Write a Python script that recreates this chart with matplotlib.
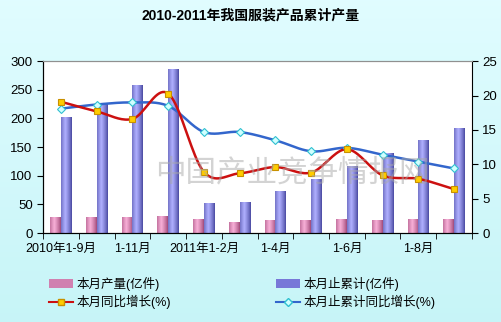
import matplotlib
matplotlib.use("Agg")
import matplotlib.pyplot as plt
import numpy as np

plt.rcParams['font.family'] = ['Liberation Sans', 'Noto Sans CJK SC', 'DejaVu Sans']

# - DATA -
months = ['2010年1-9月', '1-10月', '1-11月', '1-12月', '2011年1-2月', '1-3月',
          '1-4月', '1-5月', '1-6月', '1-7月', '1-8月', '1-9月']
monthly = [27, 27, 27, 29, 23, 19, 21, 21, 23, 21, 23, 23]          # 本月产量(亿件)
cumulative = [202, 226, 257, 286, 51, 54, 73, 94, 116, 139, 161, 183]  # 本月止累计(亿件)
monthly_yoy = [19.1, 17.7, 16.6, 20.3, 8.9, 8.7, 9.6, 8.8, 12.2, 8.4, 7.9, 6.4]
cumulative_yoy = [18.1, 18.7, 19.0, 18.5, 14.7, 14.7, 13.5, 11.9, 12.4, 11.4, 10.4, 9.4]
# - DATA -


def smooth(x, y, n=20):
    # catmull-rom curve through the points, like excel's smoothed line
    x = np.asarray(x, float)
    y = np.asarray(y, float)
    px = np.concatenate([[2 * x[0] - x[1]], x, [2 * x[-1] - x[-2]]])
    py = np.concatenate([[2 * y[0] - y[1]], y, [2 * y[-1] - y[-2]]])
    xs, ys = [], []
    t = np.linspace(0, 1, n, endpoint=False)
    for i in range(1, len(px) - 2):
        for p, out in ((px, xs), (py, ys)):
            p0, p1, p2, p3 = p[i - 1], p[i], p[i + 1], p[i + 2]
            out.extend(0.5 * (2 * p1 + (-p0 + p2) * t + (2 * p0 - 5 * p1 + 4 * p2 - p3) * t ** 2
                              + (-p0 + 3 * p1 - 3 * p2 + p3) * t ** 3))
    xs.append(x[-1])
    ys.append(y[-1])
    return xs, ys


fig = plt.figure(figsize=(5.01, 3.22), dpi=100)

# background gradient
bg = fig.add_axes([0, 0, 1, 1], zorder=-10)
grad = np.linspace(0, 1, 256)[:, None, None]
top = np.array([0.88, 0.99, 1.0])
bot = np.array([0.78, 0.96, 0.97])
bg.imshow(top + (bot - top) * grad, aspect='auto', extent=[0, 1, 0, 1])
bg.set_axis_off()

ax = fig.add_axes([0.086, 0.276, 0.856, 0.534])
ax.set_facecolor('white')
x = np.arange(len(months))
w = 0.3

pink_bars = ax.bar(x - w / 2, monthly, w, color='#E890C0', zorder=2)
blue_bars = ax.bar(x + w / 2, cumulative, w, color='#8C8CF0', zorder=2)


def shade(bars, dark, light):
    dark = np.array(matplotlib.colors.to_rgb(dark))
    light = np.array(matplotlib.colors.to_rgb(light))
    s = np.linspace(0, 1, 32)
    prof = np.clip(1 - np.abs(s - 0.4) / 0.6, 0, 1) ** 0.8
    img = (dark + (light - dark) * prof[:, None])[None, :, :]
    for b in bars:
        x0, y0 = b.get_x(), b.get_y()
        ax.imshow(img, aspect='auto', extent=[x0, x0 + b.get_width(), y0, y0 + b.get_height()],
                  zorder=2.1, interpolation='bilinear')


shade(pink_bars, '#A04878', '#F8B0D8')
shade(blue_bars, '#4848A0', '#B0B0FF')

ax.set_xlim(-0.5, len(months) - 0.5)
ax.set_ylim(0, 300)
ax.set_yticks(range(0, 301, 50))
ax.set_xticks(x[::2])
ax.set_xticklabels(months[::2])
ax.set_xticks(np.arange(-0.5, len(months), 1), minor=True)
ax.tick_params(axis='x', which='major', length=0, pad=7, labelsize=9)
ax.tick_params(axis='x', which='minor', length=4, direction='out')
ax.tick_params(axis='y', labelsize=9.5, length=4, direction='out')
ax.spines['top'].set_color('#909090')
ax.spines['right'].set_visible(False)

ax2 = ax.twinx()
ax2.set_ylim(0, 25)
ax2.set_yticks(range(0, 26, 5))
ax2.tick_params(axis='y', labelsize=9.5, length=4, direction='out')
ax2.spines['top'].set_color('#909090')

sx, sy = smooth(x, cumulative_yoy)
ax2.plot(sx, sy, color='#3366CC', lw=1.8, zorder=3)
ax2.plot(x, cumulative_yoy, ls='none', marker='D', ms=4.5, mfc='#D0FFFF', mec='#30C0D0', mew=0.8, zorder=4)
rx, ry = smooth(x, monthly_yoy)
ax2.plot(rx, ry, color='#CC1010', lw=1.8, zorder=3)
ax2.plot(x, monthly_yoy, ls='none', marker='s', ms=5, mfc='#FFCC00', mec='#C89000', mew=0.8, zorder=4)

# watermark
ax2.text(0.58, 0.35, '中国产业竞争情报网', transform=ax.transAxes, ha='center', va='center',
         fontsize=22, color='#a8a8a8', alpha=0.5, family=['Noto Sans CJK SC'], zorder=5)

fig.text(0.5, 0.952, '2010-2011年我国服装产品累计产量', ha='center', va='center',
         fontsize=10, fontweight='bold')

h_pink = matplotlib.patches.Patch(facecolor='#D080B0', edgecolor='none')
h_blue = matplotlib.patches.Patch(facecolor='#7878D8', edgecolor='none')
h_red = matplotlib.lines.Line2D([], [], color='#CC1010', lw=1.5, marker='s', ms=4.5,
                                mfc='#FFCC00', mec='#C89000')
h_bl = matplotlib.lines.Line2D([], [], color='#3366CC', lw=1.5, marker='D', ms=4,
                               mfc='#D0FFFF', mec='#30C0D0')
fig.legend([h_pink, h_red, h_blue, h_bl],
           ['本月产量(亿件)', '本月同比增长(%)', '本月止累计(亿件)', '本月止累计同比增长(%)'],
           ncol=2, loc='upper left', bbox_to_anchor=(0.098, 0.14), frameon=False,
           fontsize=9, columnspacing=8.4, handlelength=1.9, handletextpad=0.3,
           labelspacing=0.3, borderpad=0, borderaxespad=0)

fig.savefig('out.png', dpi=100)
